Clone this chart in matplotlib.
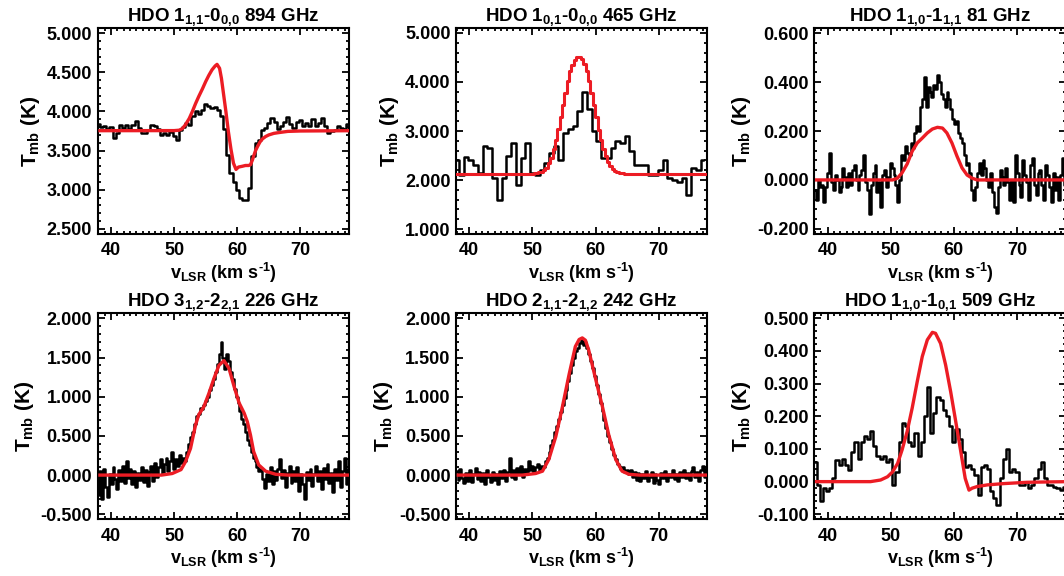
import numpy as np
import matplotlib
matplotlib.use("Agg")
import matplotlib.pyplot as plt
from matplotlib.ticker import FormatStrFormatter, MultipleLocator, AutoMinorLocator

plt.rcParams['font.family'] = ['Liberation Sans', 'DejaVu Sans']
plt.rcParams['font.weight'] = 'bold'
plt.rcParams['mathtext.fontset'] = 'custom'
plt.rcParams['mathtext.rm'] = 'Liberation Sans:bold'
plt.rcParams['mathtext.it'] = 'Liberation Sans:bold'
plt.rcParams['mathtext.bf'] = 'Liberation Sans:bold'
plt.rcParams['mathtext.sf'] = 'Liberation Sans:bold'

# ---------------- data ----------------
titles = [r'HDO 1$_{1{,}1}$-0$_{0{,}0}$ 894 GHz',
          r'HDO 1$_{0{,}1}$-0$_{0{,}0}$ 465 GHz',
          r'HDO 1$_{1{,}0}$-1$_{1{,}1}$ 81 GHz',
          r'HDO 3$_{1{,}2}$-2$_{2{,}1}$ 226 GHz',
          r'HDO 2$_{1{,}1}$-2$_{1{,}2}$ 242 GHz',
          r'HDO 1$_{1{,}0}$-1$_{0{,}1}$ 509 GHz']

# channel grids (start, width) for the observed spectra
v0_894, dv_894 = 38.0, 0.5
v0_465, dv_465 = 38.0, 0.75
v0_81, dv_81 = 38.0, 0.3
v0_226, dv_226 = 38.0, 0.3
v0_242, dv_242 = 38.0, 0.3
v0_509, dv_509 = 38.0, 0.5

obs_894 = [3.84, 3.80, 3.81, 3.77, 3.80, 3.66, 3.72, 3.83, 3.79, 3.83,
           3.78, 3.83, 3.88, 3.79, 3.73, 3.72, 3.76, 3.83, 3.81, 3.77,
           3.70, 3.72, 3.70, 3.74, 3.68, 3.64, 3.76, 3.80, 3.85, 3.83,
           3.94, 4.00, 3.97, 4.02, 4.09, 4.07, 4.04, 4.05, 4.02, 3.94,
           3.77, 3.45, 3.22, 3.10, 3.00, 2.90, 2.87, 2.87, 3.02, 3.43,
           3.60, 3.64, 3.76, 3.79, 3.85, 3.91, 3.86, 3.78, 3.82, 3.87,
           3.93, 3.84, 3.79, 3.87, 3.89, 3.81, 3.85, 3.81, 3.90, 3.82,
           3.85, 3.91, 3.82, 3.73, 3.75, 3.76, 3.81, 3.79, 3.77, 3.84]

obs_465 = [2.40, 2.10, 2.47, 2.40, 2.30, 2.15, 2.70, 2.65, 2.05, 1.60,
           2.05, 2.50, 2.75, 1.90, 2.45, 2.75, 2.15, 2.10, 2.20, 2.35,
           2.55, 2.70, 2.40, 2.95, 3.05, 3.10, 3.40, 3.80, 3.45, 3.00,
           2.80, 2.45, 2.45, 2.65, 2.80, 2.75, 2.90, 2.60, 2.30, 2.30,
           2.30, 2.10, 2.10, 2.20, 2.40, 2.05, 2.00, 1.95, 2.05, 1.70,
           2.25, 2.20, 2.40]

obs_81 = [-0.04, -0.08, 0.00, -0.03, -0.02, -0.09, -0.03, 0.03, 0.11, -0.01,
          -0.04, 0.02, 0.00, -0.05, -0.03, 0.05, 0.01, -0.03, 0.03, -0.02,
          0.04, 0.06, 0.00, -0.04, 0.02, 0.04, 0.10, -0.01, -0.04, -0.14,
          -0.02, 0.03, 0.06, -0.05, -0.01, -0.11, 0.02, 0.04, -0.03, 0.01,
          0.07, 0.05, 0.02, -0.02, -0.09, 0.00, 0.10, 0.08, 0.14, 0.11,
          0.10, 0.15, 0.13, 0.19, 0.22, 0.20, 0.30, 0.33, 0.42, 0.30,
          0.38, 0.36, 0.34, 0.39, 0.37, 0.43, 0.40, 0.35, 0.33, 0.30,
          0.36, 0.33, 0.29, 0.25, 0.23, 0.24, 0.19, 0.17, 0.15, 0.10,
          0.06, 0.07, 0.03, -0.04, -0.08, -0.03, 0.03, 0.07, 0.02, 0.08,
          0.05, 0.00, -0.03, 0.03, -0.05, -0.11, -0.135, -0.03, 0.04, 0.01,
          -0.02, 0.05, -0.01, -0.08, 0.00, -0.09, 0.10, 0.03, -0.02, -0.07,
          0.08, 0.02, -0.01, -0.08, 0.06, 0.09, -0.02, -0.06, 0.03, 0.04,
          -0.02, -0.08, 0.06, 0.02, -0.03, -0.09, 0.03, -0.04, 0.01, -0.08,
          0.02, 0.09, -0.02]

obs_226 = [-0.25, 0.05, -0.30, 0.08, -0.15, -0.28, 0.02, -0.12, 0.10, -0.05,
           -0.18, 0.06, -0.08, 0.12, -0.10, 0.18, -0.04, 0.08, -0.12, 0.05,
           -0.15, 0.03, -0.06, 0.10, -0.09, 0.06, -0.14, 0.04, 0.12, -0.08,
           0.15, -0.02, 0.10, 0.20, 0.02, 0.14, 0.22, 0.05, 0.18, 0.30,
           0.08, 0.20, 0.12, 0.25, 0.15, 0.22, 0.18, 0.30, 0.40, 0.48,
           0.55, 0.65, 0.75, 0.78, 0.85, 0.84, 0.90, 0.95, 1.00, 1.08,
           1.15, 1.22, 1.32, 1.42, 1.55, 1.70, 1.50, 1.35, 1.55, 1.45,
           1.32, 1.22, 1.10, 1.00, 0.92, 0.82, 0.72, 0.65, 0.55, 0.45,
           0.38, 0.30, 0.22, 0.18, 0.10, 0.05, 0.08, -0.05, -0.17, 0.02,
           -0.08, 0.10, -0.12, 0.05, -0.06, 0.08, 0.20, -0.04, 0.06, -0.15,
           0.03, 0.12, -0.10, 0.05, -0.08, 0.10, -0.20, 0.02, -0.12, -0.30,
           0.04, -0.06, 0.08, -0.14, 0.02, 0.12, -0.08, 0.05, -0.18, 0.09,
           -0.05, 0.14, -0.10, 0.03, -0.22, 0.08, -0.06, 0.18, -0.15, 0.05,
           0.22, -0.12, 0.06]

obs_242 = [0.05, -0.06, 0.08, -0.04, -0.10, 0.03, -0.07, 0.06, -0.09, 0.02,
           0.09, -0.05, 0.04, -0.08, 0.03, -0.11, 0.06, -0.03, -0.09, 0.04,
           -0.06, 0.02, -0.12, 0.05, -0.04, 0.07, -0.08, 0.04, 0.22, -0.02,
           0.06, -0.05, 0.09, 0.02, 0.12, -0.03, 0.08, 0.04, 0.18, 0.06,
           0.12, 0.03, 0.10, 0.14, 0.06, 0.12, 0.10, 0.18, 0.22, 0.30,
           0.38, 0.45, 0.55, 0.62, 0.72, 0.80, 0.90, 0.98, 1.08, 1.20,
           1.30, 1.40, 1.50, 1.58, 1.62, 1.68, 1.72, 1.66, 1.70, 1.62,
           1.55, 1.45, 1.36, 1.26, 1.15, 1.03, 0.92, 0.82, 0.70, 0.60,
           0.50, 0.42, 0.33, 0.25, 0.20, 0.14, 0.12, 0.08, 0.10, 0.04,
           0.07, 0.02, 0.06, -0.03, 0.04, -0.06, 0.03, -0.08, 0.02, -0.04,
           0.05, -0.07, -0.02, 0.04, -0.10, 0.01, -0.06, -0.12, 0.03, -0.04,
           0.05, -0.07, 0.02, -0.03, 0.06, -0.05, 0.01, -0.08, 0.04, -0.02,
           0.07, -0.04, 0.03, -0.06, 0.05, 0.10, -0.03, 0.04, -0.07, 0.06,
           0.12, -0.02, 0.08]

obs_509 = [0.06, -0.01, -0.06, -0.02, -0.03, -0.02, 0.01, 0.065, 0.05, 0.07,
           0.05, 0.035, 0.09, 0.12, 0.07, 0.12, 0.14, 0.13, 0.155, 0.11,
           0.08, 0.07, 0.08, 0.06, 0.07, -0.01, 0.03, 0.12, 0.18, 0.17,
           0.12, 0.11, 0.15, 0.08, 0.12, 0.20, 0.29, 0.15, 0.21, 0.26,
           0.25, 0.22, 0.20, 0.17, 0.12, 0.16, 0.13, 0.09, 0.045, 0.05,
           0.04, 0.02, -0.04, 0.045, 0.05, 0.04, -0.03, -0.05, -0.07, 0.01,
           0.07, 0.10, 0.03, 0.04, 0.03, -0.01, -0.01, 0.00, -0.02, -0.01,
           0.01, 0.04, 0.06, 0.01, -0.01, -0.01, -0.015, -0.02, -0.025, -0.015]

# model (red) curves: velocity nodes and temperatures
mod_894_v = [38.0, 50.0, 50.8, 51.3, 51.8, 52.4, 52.9, 53.4, 53.9, 54.5,
             55.0, 55.5, 56.0, 56.5, 56.8, 57.2, 57.5, 57.8, 58.2, 58.6,
             59.0, 59.4, 59.8, 60.2, 60.8, 61.3, 61.8, 62.1, 62.4, 62.6,
             62.9, 63.2, 63.6, 64.0, 64.5, 65.0, 65.8, 66.6, 68.0, 70.0, 78.0]
mod_894_t = [3.754, 3.755, 3.76, 3.78, 3.83, 3.91, 4.00, 4.10, 4.19, 4.29,
             4.38, 4.46, 4.53, 4.58, 4.60, 4.55, 4.42, 4.24, 4.00, 3.74,
             3.52, 3.34, 3.26, 3.29, 3.30, 3.31, 3.31, 3.32, 3.38, 3.43,
             3.50, 3.55, 3.61, 3.65, 3.68, 3.70, 3.72, 3.73, 3.745, 3.75, 3.754]

mod_465_v = [38.0, 50.0, 50.5, 51.0, 51.5, 52.0, 52.5, 53.0, 53.5, 54.0,
             54.5, 55.0, 55.5, 56.0, 56.5, 57.0, 57.5, 58.0, 58.5, 59.0,
             59.5, 60.0, 60.5, 61.0, 61.5, 62.0, 62.5, 63.0, 63.5, 64.0,
             64.5, 65.0, 65.5, 66.0, 78.0]
mod_465_t = [2.12, 2.13, 2.14, 2.15, 2.17, 2.21, 2.30, 2.45, 2.68, 2.95,
             3.28, 3.62, 3.95, 4.22, 4.40, 4.50, 4.52, 4.45, 4.28, 4.02,
             3.70, 3.36, 3.03, 2.75, 2.52, 2.36, 2.25, 2.19, 2.16, 2.14,
             2.13, 2.12, 2.12, 2.12, 2.12]

mod_81_v = [38.0, 50.3, 51.05, 51.8, 52.6, 53.4, 54.2, 55.0, 55.8, 56.6,
            57.4, 58.2, 58.9, 59.7, 60.5, 61.3, 62.1, 62.9, 63.7, 78.0]
mod_81_t = [0.0, 0.0, 0.007, 0.029, 0.065, 0.117, 0.151, 0.171, 0.192, 0.208,
            0.215, 0.212, 0.192, 0.151, 0.097, 0.049, 0.020, 0.007, 0.0, 0.0]

mod_226_v = [38.0, 48.0, 49.7, 51.1, 51.8, 52.6, 53.4, 53.9, 54.7, 55.5,
             56.3, 57.1, 57.9, 58.7, 59.5, 60.3, 61.1, 61.6, 62.1, 62.6,
             63.4, 64.5, 66.1, 68.0, 78.0]
mod_226_t = [0.0, 0.0, 0.02, 0.07, 0.17, 0.34, 0.64, 0.77, 0.87, 1.04,
             1.23, 1.40, 1.46, 1.36, 1.13, 0.92, 0.79, 0.68, 0.51, 0.30,
             0.13, 0.05, 0.01, 0.0, 0.0]

mod_242_v = [38.0, 48.4, 50.5, 51.6, 52.6, 53.7, 54.7, 55.8, 56.8, 57.4,
             57.9, 58.4, 58.9, 60.0, 61.1, 62.1, 63.2, 64.2, 65.3, 67.0, 78.0]
mod_242_t = [0.0, 0.0, 0.02, 0.05, 0.20, 0.49, 0.85, 1.28, 1.64, 1.73,
             1.75, 1.72, 1.60, 1.23, 0.87, 0.51, 0.20, 0.05, 0.01, 0.0, 0.0]

mod_509_v = [38.0, 46.8, 48.4, 49.5, 50.3, 51.1, 51.8, 52.6, 53.4, 54.2,
             55.0, 55.8, 56.6, 57.1, 57.9, 58.7, 59.5, 60.3, 61.1, 61.8,
             62.4, 62.9, 63.7, 65.3, 67.9, 71.6, 78.0]
mod_509_t = [0.0, 0.0, 0.005, 0.015, 0.03, 0.056, 0.097, 0.153, 0.225, 0.306,
             0.383, 0.434, 0.457, 0.454, 0.423, 0.357, 0.275, 0.184, 0.092, 0.010,
             -0.026, -0.020, -0.015, -0.010, -0.006, -0.002, 0.0]

obs = [(v0_894, dv_894, obs_894), (v0_465, dv_465, obs_465), (v0_81, dv_81, obs_81),
       (v0_226, dv_226, obs_226), (v0_242, dv_242, obs_242), (v0_509, dv_509, obs_509)]
models = [(mod_894_v, mod_894_t, False), (mod_465_v, mod_465_t, True), (mod_81_v, mod_81_t, False),
          (mod_226_v, mod_226_t, False), (mod_242_v, mod_242_t, False), (mod_509_v, mod_509_t, False)]

ylims = [(2.436, 5.064), (0.898, 5.102), (-0.221, 0.621),
         (-0.564, 2.064), (-0.564, 2.064), (-0.1153, 0.5153)]
ymajor = [0.5, 1.0, 0.2, 0.5, 0.5, 0.1]
xlim = (37.9, 77.7)

# ---------------- figure ----------------
W, H = 1064, 576
fig = plt.figure(figsize=(W / 100, H / 100), dpi=100)

lefts = [97.7, 456.0, 814.3]
tops = [28.0, 313.3]
aw, ah = 251.3, 206.0

red = '#ec1c24'
for i in range(6):
    r, c = divmod(i, 3)
    ax = fig.add_axes([lefts[c] / W, 1 - (tops[r] + ah) / H, aw / W, ah / H])
    v0, dv, t = obs[i]
    v = v0 + dv * np.arange(len(t))
    ax.plot(v, t, color='black', lw=1.8, drawstyle='steps-mid', zorder=2)
    mv, mt, stepped = models[i]
    if stepped:
        mvv = np.arange(38.0, 78.0, 0.375)
        mtt = np.interp(mvv, mv, mt)
        ax.plot(mvv, mtt, color=red, lw=2.2, drawstyle='steps-mid', zorder=3)
    else:
        ax.plot(mv, mt, color=red, lw=2.4, zorder=3, solid_capstyle='butt')
    ax.set_xlim(*xlim)
    ax.set_ylim(*ylims[i])
    ax.xaxis.set_major_locator(MultipleLocator(10))
    ax.xaxis.set_minor_locator(MultipleLocator(1))
    ax.yaxis.set_major_locator(MultipleLocator(ymajor[i]))
    ax.yaxis.set_minor_locator(AutoMinorLocator(5))
    ax.yaxis.set_major_formatter(FormatStrFormatter('%.3f'))
    ax.tick_params(which='both', direction='in', top=True, right=True,
                   labelsize=13, width=1.3)
    ax.tick_params(which='major', length=5, pad=6)
    ax.tick_params(which='minor', length=2.5)
    ax.tick_params(axis='y', which='major', pad=4)
    for lab in ax.get_xticklabels() + ax.get_yticklabels():
        lab.set_fontweight('bold')
    for s in ax.spines.values():
        s.set_linewidth(1.5)
    ax.set_title(titles[i], fontsize=13.5, fontweight='bold', pad=4)
    ax.set_xlabel(r'v$_{\rm LSR}$ (km s$^{\text{-1}}$)', fontsize=13, fontweight='bold', labelpad=1)
    ax.set_ylabel(r'T$_{\rm mb}$ (K)', fontsize=15, fontweight='bold', labelpad=3)

fig.savefig('out.png', dpi=100)
